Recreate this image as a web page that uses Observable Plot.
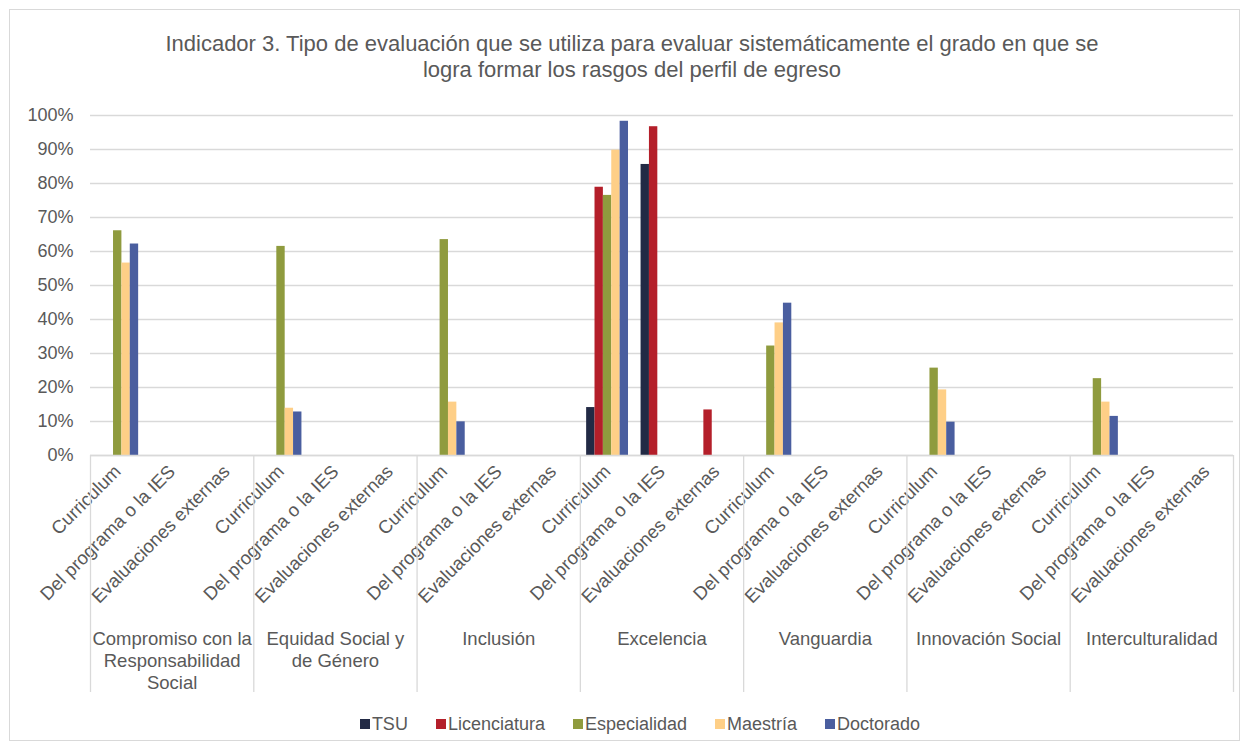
<!DOCTYPE html>
<html>
<head>
<meta charset="utf-8">
<script src="https://cdn.jsdelivr.net/npm/d3@7"></script>
<script src="https://cdn.jsdelivr.net/npm/@observablehq/plot@0.6"></script>
<style>
  html, body { margin: 0; padding: 0; background: #fff; }
  body { width: 1249px; height: 750px; position: relative; overflow: hidden;
         font-family: "Liberation Sans", Arial, sans-serif; color: #595959; }
  #frame { position: absolute; left: 9px; top: 9px; width: 1231px; height: 732px;
           border: 1px solid #d9d9d9; box-sizing: border-box; }
  #title { position: absolute; left: 16px; top: 31px; width: 1232px; text-align: center;
           font-size: 22px; line-height: 26px; color: #595959; }
  #chart { position: absolute; left: 0; top: 100px; }
  #legend { position: absolute; left: 0; width: 1280px; top: 713px; height: 22px;
            display: flex; justify-content: center; align-items: center; font-size: 18px; }
  .item { display: flex; align-items: center; margin-right: 28px; }
  .item:last-child { margin-right: 0; }
  .sw { width: 10px; height: 10px; margin-right: 2px; }
</style>
</head>
<body>
<div id="frame"></div>
<div id="title">Indicador 3. Tipo de evaluación que se utiliza para evaluar sistemáticamente el grado en que se<br>logra formar los rasgos del perfil de egreso</div>
<div id="chart"></div>
<div id="legend"></div>
<script>
// ---- data ----
const groupLabels = [
  "Compromiso con la\nResponsabilidad\nSocial",
  "Equidad Social y\nde Género",
  "Inclusión",
  "Excelencia",
  "Vanguardia",
  "Innovación Social",
  "Interculturalidad"
];
const subcats = ["Curriculum", "Del programa o la IES", "Evaluaciones externas"];
const seriesNames = ["TSU", "Licenciatura", "Especialidad", "Maestría", "Doctorado"];
const seriesColors = ["#222a45", "#b41f2a", "#8f9b3e", "#fecf87", "#4a5e9f"];

// values in %, 21 categories (7 groups x 3 subcategories)
const tsu          = [null,null,null, null,null,null, null,null,null, 14.1,85.6,null, null,null,null, null,null,null, null,null,null];
const licenciatura = [null,null,null, null,null,null, null,null,null, 78.9,96.7,13.4, null,null,null, null,null,null, null,null,null];
const especialidad = [66.1,null,null, 61.5,null,null, 63.5,null,null, 76.5,null,null, 32.2,null,null, 25.7,null,null, 22.6,null,null];
const maestria     = [56.6,null,null, 13.9,null,null, 15.7,null,null, 89.8,null,null, 39.0,null,null, 19.3,null,null, 15.7,null,null];
const doctorado    = [62.2,null,null, 12.8,null,null,  9.9,null,null, 98.3,null,null, 44.8,null,null,  9.8,null,null, 11.5,null,null];
const yTicks = [0, 0.1, 0.2, 0.3, 0.4, 0.5, 0.6, 0.7, 0.8, 0.9, 1.0];

const seriesValues = [tsu, licenciatura, especialidad, maestria, doctorado];
const nCat = groupLabels.length * subcats.length;
const rows = [];
seriesValues.forEach((vals, j) => {
  vals.forEach((v, i) => {
    if (v != null) rows.push({i, j, series: seriesNames[j], v: v / 100});
  });
});

const gap = 1.5; // Excel gap width (150%)
const slot = seriesNames.length + gap;
const tickPos = d3.range(nCat).map(i => i + 0.5);

const chart = Plot.plot({
  width: 1249,
  height: 600,
  marginLeft: 90,
  marginRight: 16,
  marginTop: 15,
  marginBottom: 245,
  style: {fontFamily: "'Liberation Sans', Arial, sans-serif", fontSize: "18px", color: "#595959", background: "transparent", overflow: "visible"},
  x: {domain: [0, nCat], axis: null},
  y: {domain: [0, 1], axis: null},
  color: {domain: seriesNames, range: seriesColors},
  marks: [
    Plot.gridY(yTicks, {stroke: "#d9d9d9", strokeOpacity: 1, strokeWidth: 1.3}),
    Plot.axisY({ticks: yTicks, tickFormat: d3.format(".0%"), tickSize: 0, tickPadding: 17, fontSize: 18, label: null}),
    Plot.rectY(rows, {
      x1: d => d.i + (gap / 2 + d.j) / slot,
      x2: d => d.i + (gap / 2 + d.j + 1) / slot,
      y1: 0, y2: "v", fill: "series"
    }),
    Plot.ruleY([0], {stroke: "#d9d9d9", strokeWidth: 1.3}),
    Plot.axisX({ticks: tickPos, tickFormat: d => subcats[Math.floor(d) % subcats.length],
                tickRotate: -45, tickSize: 0, tickPadding: 13, fontSize: 18.5, label: null}),
    Plot.ruleX(d3.range(0, nCat + 1, subcats.length), {stroke: "#d9d9d9", strokeWidth: 1.3, insetTop: 340, insetBottom: -237}),
    Plot.text(groupLabels, {x: (d, i) => i * subcats.length + subcats.length / 2, frameAnchor: "bottom",
                            lineAnchor: "top", dy: 174, lineHeight: 1.19, fontSize: 18.5, fill: "#595959"})
  ]
});
document.getElementById("chart").appendChild(chart);

const legend = document.getElementById("legend");
seriesNames.forEach((name, j) => {
  const it = document.createElement("div");
  it.className = "item";
  const sw = document.createElement("div");
  sw.className = "sw";
  sw.style.background = seriesColors[j];
  const t = document.createElement("span");
  t.textContent = name;
  it.appendChild(sw); it.appendChild(t);
  legend.appendChild(it);
});
</script>
</body>
</html>
